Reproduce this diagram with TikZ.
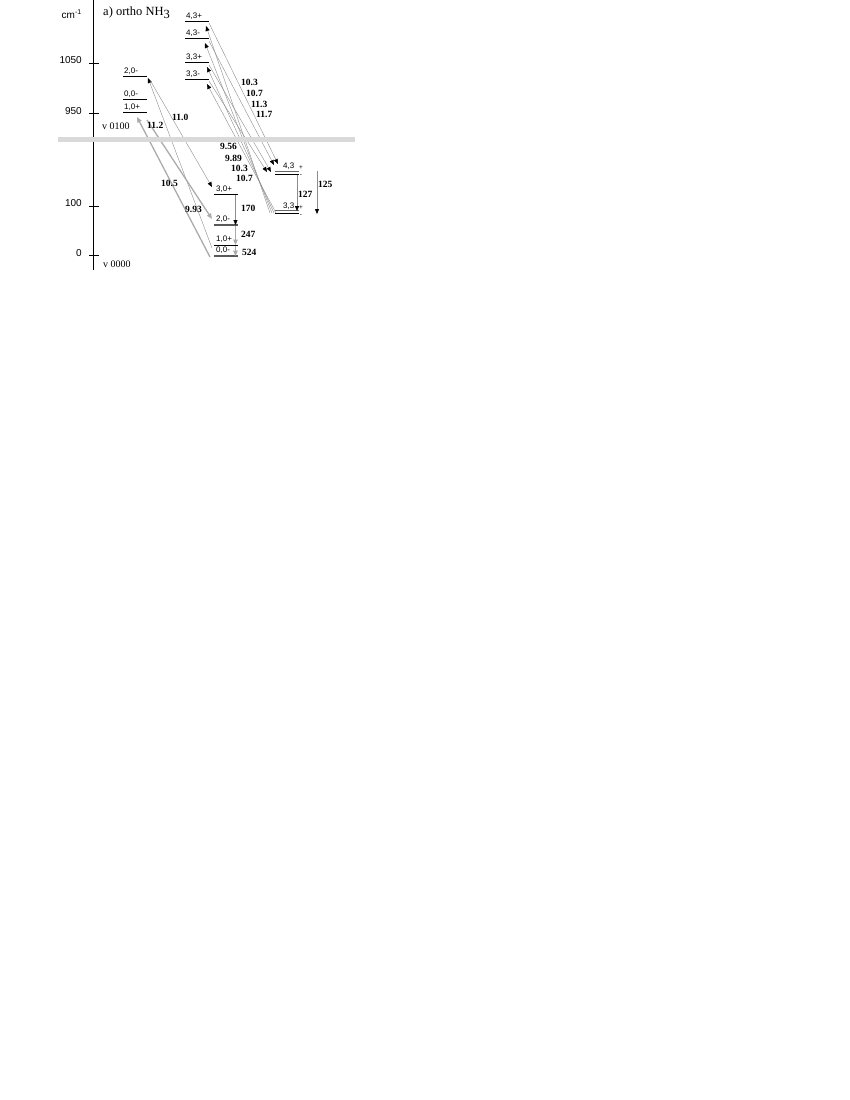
\documentclass[tikz,border=0pt]{standalone}
\usepackage{fontspec}
\setmainfont{Liberation Serif}
\setsansfont{Liberation Sans}
\usetikzlibrary{arrows.meta}
\begin{document}
\begin{tikzpicture}[x=1pt,y=-1pt,
  lvl/.style={line width=1pt,black},
  lvlg/.style={line width=1.4pt,black!65},
  lab/.style={font=\sffamily\fontsize{8}{9}\selectfont,inner sep=0pt,anchor=base west},
  pm/.style={font=\sffamily\fontsize{6.5}{7}\selectfont,inner sep=0pt},
  wl/.style={font=\bfseries\fontsize{9.5}{10}\selectfont,inner sep=0pt,anchor=base west},
  axl/.style={font=\sffamily\fontsize{10}{12}\selectfont,inner sep=0pt,anchor=base east},
  sern/.style={inner sep=0pt,anchor=base west},
  thinl/.style={line width=0.4pt,black!45},
  thickg/.style={line width=1.3pt,black!33},
  bk/.style={-{Triangle[length=5pt,width=4pt,color=black]}},
  gk/.style={-{Triangle[length=5.5pt,width=4.5pt,color=black!33]}},
]
\useasboundingbox (0,0) rectangle (850,1100);

% axis
\draw[line width=1pt] (93,0) coordinate (axT) -- (93,270) coordinate (axB);
\foreach \yy in {63,113,206,255} \draw[line width=1pt] (89,\yy) -- (99,\yy);
\node[axl] (tcm) at (82,18) {cm\textsuperscript{-1}};
\node[axl] (t1050) at (82,63) {1050};
\node[axl] (t950) at (82,114) {950};
\node[axl] (t100) at (82,206) {100};
\node[axl] (t0) at (82,256) {0};
\node[sern,font=\fontsize{12.5}{14}\selectfont] (title) at (103,16) {a) ortho NH\raisebox{-3pt}{3}};
\node[sern,font=\fontsize{10}{12}\selectfont] (v1) at (102,129) {v 0100};
\node[sern,font=\fontsize{10}{12}\selectfont] (v0) at (103,267) {v 0000};

% upper K=0 levels
\draw[lvl] (123,76) -- (147,76);
\draw[lvl] (123,99.5) -- (147,99.5);
\draw[lvl] (123,112.5) -- (147,112.5);
\node[lab] (lu20) at (124,73) {2,0-};
\node[lab] (lu00) at (124,96.5) {0,0-};
\node[lab] (lu10) at (124,109.5) {1,0+};
\coordinate (u20a) at (148,78);
\coordinate (u20e) at (150,80);
\coordinate (u10a) at (137,117);
\coordinate (u10e) at (147,120);

% upper K=3 levels
\draw[lvl] (185,21) -- (209,21);
\draw[lvl] (185,38.5) -- (209,38.5);
\draw[lvl] (185,62.5) -- (209,62.5);
\draw[lvl] (185,79) -- (209,79);
\node[lab] (lu43p) at (186,18) {4,3+};
\node[lab] (lu43m) at (186,35.5) {4,3-};
\node[lab] (lu33p) at (186,59.5) {3,3+};
\node[lab] (lu33m) at (186,76) {3,3-};
\coordinate (a43p) at (206,26);
\coordinate (a43m) at (205,43);
\coordinate (a33p) at (207,67);
\coordinate (a33m) at (207,84);
\coordinate (e43p) at (209,23);
\coordinate (e43m) at (209,41);
\coordinate (e33p) at (209,65);
\coordinate (e33m) at (209,81);

% lower K=0 levels
\draw[lvl] (214,194.5) -- (238,194.5);
\draw[lvlg] (214,225) -- (238,225);
\draw[lvl] (214,245) -- (238,245);
\draw[lvlg] (214,256) -- (238,256);
\node[lab] (l30) at (216,191) {3,0+};
\node[lab] (l20) at (216,221.5) {2,0-};
\node[lab] (l10) at (216,241.5) {1,0+};
\node[lab] (l00) at (216,252.5) {0,0-};
\coordinate (l30t) at (212,187);
\coordinate (l20t) at (212,219);
\coordinate (l10s) at (212,248);
\coordinate (l00s) at (210,257);

% lower K=3 levels (doublets)
\draw[line width=1pt,black!60] (275,171) -- (299,171);
\draw[line width=1pt] (275,174) -- (299,174);
\draw[line width=1pt,black!60] (275,210) -- (299,210);
\draw[line width=1pt] (275,213) -- (299,213);
\node[lab] (l43) at (283,168) {4,3};
\node[lab] (l33) at (283,208) {3,3};
\node[pm] (p43) at (301,168) {+};
\node[pm] (m43) at (301,176) {-};
\node[pm] (p33) at (301,208) {+};
\node[pm] (m33) at (301,215.5) {-};
\coordinate (t1) at (267,172);
\coordinate (t2) at (271,172);
\coordinate (t3) at (274,165);
\coordinate (t4) at (278,164);
\coordinate (s1) at (270,213);
\coordinate (s2) at (272,213);
\coordinate (s3) at (274,213);
\coordinate (s4) at (276,213);

% K=0 transitions
\draw[thinl,bk] (l10s) -- (u20a);
\draw[thinl,bk] (u20e) -- (l30t);
\draw[thickg,gk] (l00s) -- (u10a);
\draw[thickg,gk] (u10e) -- (l20t);

% K=3 transitions
\draw[thinl,bk] (s1) -- (a43p);
\draw[thinl,bk] (s2) -- (a43m);
\draw[thinl,bk] (s3) -- (a33p);
\draw[thinl,bk] (s4) -- (a33m);
\draw[thinl,bk] (e43p) -- (t4);
\draw[thinl,bk] (e43m) -- (t3);
\draw[thinl,bk] (e33p) -- (t2);
\draw[thinl,bk] (e33m) -- (t1);

% vertical (rotational) transitions
\draw[thinl,bk] (235.5,195) -- (235.5,225);
\draw[line width=0.8pt,black!33,gk] (235.5,226) -- (235.5,245);
\draw[line width=0.8pt,black!33,gk] (235.5,246) -- (235.5,256);
\draw[thinl,bk] (297,175) -- (297,211);
\draw[thinl,bk] (317,171) -- (317,214);

% band
\fill[black!15] (58,137) rectangle (355,142);

% wavelength labels
\node[wl] (w110) at (172,120) {11.0};
\node[wl] (w112) at (147,128) {11.2};
\node[wl] (w105) at (161,186) {10.5};
\node[wl] (w993) at (185,212) {9.93};
\node[wl] (w103a) at (241,85) {10.3};
\node[wl] (w107a) at (246,96) {10.7};
\node[wl] (w113) at (251,107) {11.3};
\node[wl] (w117) at (256,117) {11.7};
\node[wl] (w956) at (220,149) {9.56};
\node[wl] (w989) at (225,161) {9.89};
\node[wl] (w103b) at (231,171) {10.3};
\node[wl] (w107b) at (236,181) {10.7};
\node[wl] (r170) at (241,211) {170};
\node[wl] (r247) at (241,237) {247};
\node[wl] (r524) at (242,255) {524};
\node[wl] (r127) at (298,197) {127};
\node[wl] (r125) at (318,187) {125};
\end{tikzpicture}
\end{document}
